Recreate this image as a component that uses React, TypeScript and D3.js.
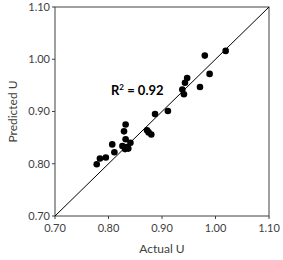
import React from "react";
import * as d3 from "d3";

// values
const actualU = [
  0.778, 0.784, 0.795, 0.807, 0.811, 0.826, 0.829, 0.832, 0.832, 0.831, 0.837,
  0.841, 0.834, 0.872, 0.875, 0.880, 0.887, 0.911, 0.938, 0.941, 0.943, 0.947,
  0.971, 0.980, 0.989, 1.019,
];
const predictedU = [
  0.799, 0.810, 0.812, 0.837, 0.822, 0.834, 0.862, 0.875, 0.847, 0.828, 0.829,
  0.840, 0.832, 0.864, 0.860, 0.856, 0.895, 0.901, 0.942, 0.933, 0.955, 0.964,
  0.947, 1.007, 0.972, 1.016,
];
const ticks = [0.7, 0.8, 0.9, 1.0, 1.1];
const rSquared = "0.92";

export default function App() {
  const width = 283;
  const height = 260;
  const left = 55;
  const right = 269;
  const top = 7;
  const bottom = 216;

  const x = d3.scaleLinear().domain([0.7, 1.1]).range([left, right]);
  const y = d3.scaleLinear().domain([0.7, 1.1]).range([bottom, top]);
  const font = "Lato, 'Open Sans', sans-serif";
  const axisColor = "#404040";

  const diag = d3.line<number>()
    .x((d) => x(d))
    .y((d) => y(d));

  return (
    <svg
      width={width}
      height={height}
      style={{ position: "absolute", left: 0, top: 0, background: "#fff" }}
    >
      <rect
        x={left}
        y={top}
        width={right - left}
        height={bottom - top}
        fill="none"
        stroke={axisColor}
        strokeWidth={1}
      />
      <path d={diag([0.7, 1.1]) || ""} stroke="#000" strokeWidth={1} fill="none" />
      {ticks.map((t) => (
        <g key={"y" + t}>
          <line x1={left - 3} x2={left} y1={y(t)} y2={y(t)} stroke={axisColor} />
          <text
            x={left - 5}
            y={y(t)}
            dy="0.35em"
            textAnchor="end"
            fontFamily={font}
            fontSize={11}
            fill="#404040"
          >
            {t.toFixed(2)}
          </text>
        </g>
      ))}
      {ticks.map((t) => (
        <g key={"x" + t}>
          <line x1={x(t)} x2={x(t)} y1={bottom} y2={bottom + 3} stroke={axisColor} />
          <text
            x={x(t)}
            y={bottom + 16}
            textAnchor="middle"
            fontFamily={font}
            fontSize={11}
            fill="#404040"
          >
            {t.toFixed(2)}
          </text>
        </g>
      ))}
      {actualU.map((a, i) => (
        <circle key={i} cx={x(a)} cy={y(predictedU[i])} r={3.3} fill="#000" />
      ))}
      <text x={111} y={95} fontFamily={font} fontSize={13} fontWeight="bold" fill="#000">
        R<tspan fontSize={8} dy={-5}>2</tspan>
        <tspan dy={5}> = {rSquared}</tspan>
      </text>
      <text
        x={(left + right) / 2}
        y={253}
        textAnchor="middle"
        fontFamily={font}
        fontSize={12}
        fill="#404040"
      >
        Actual U
      </text>
      <text
        transform={`translate(17, ${(top + bottom) / 2}) rotate(-90)`}
        textAnchor="middle"
        fontFamily={font}
        fontSize={12}
        fill="#404040"
      >
        Predicted U
      </text>
    </svg>
  );
}
